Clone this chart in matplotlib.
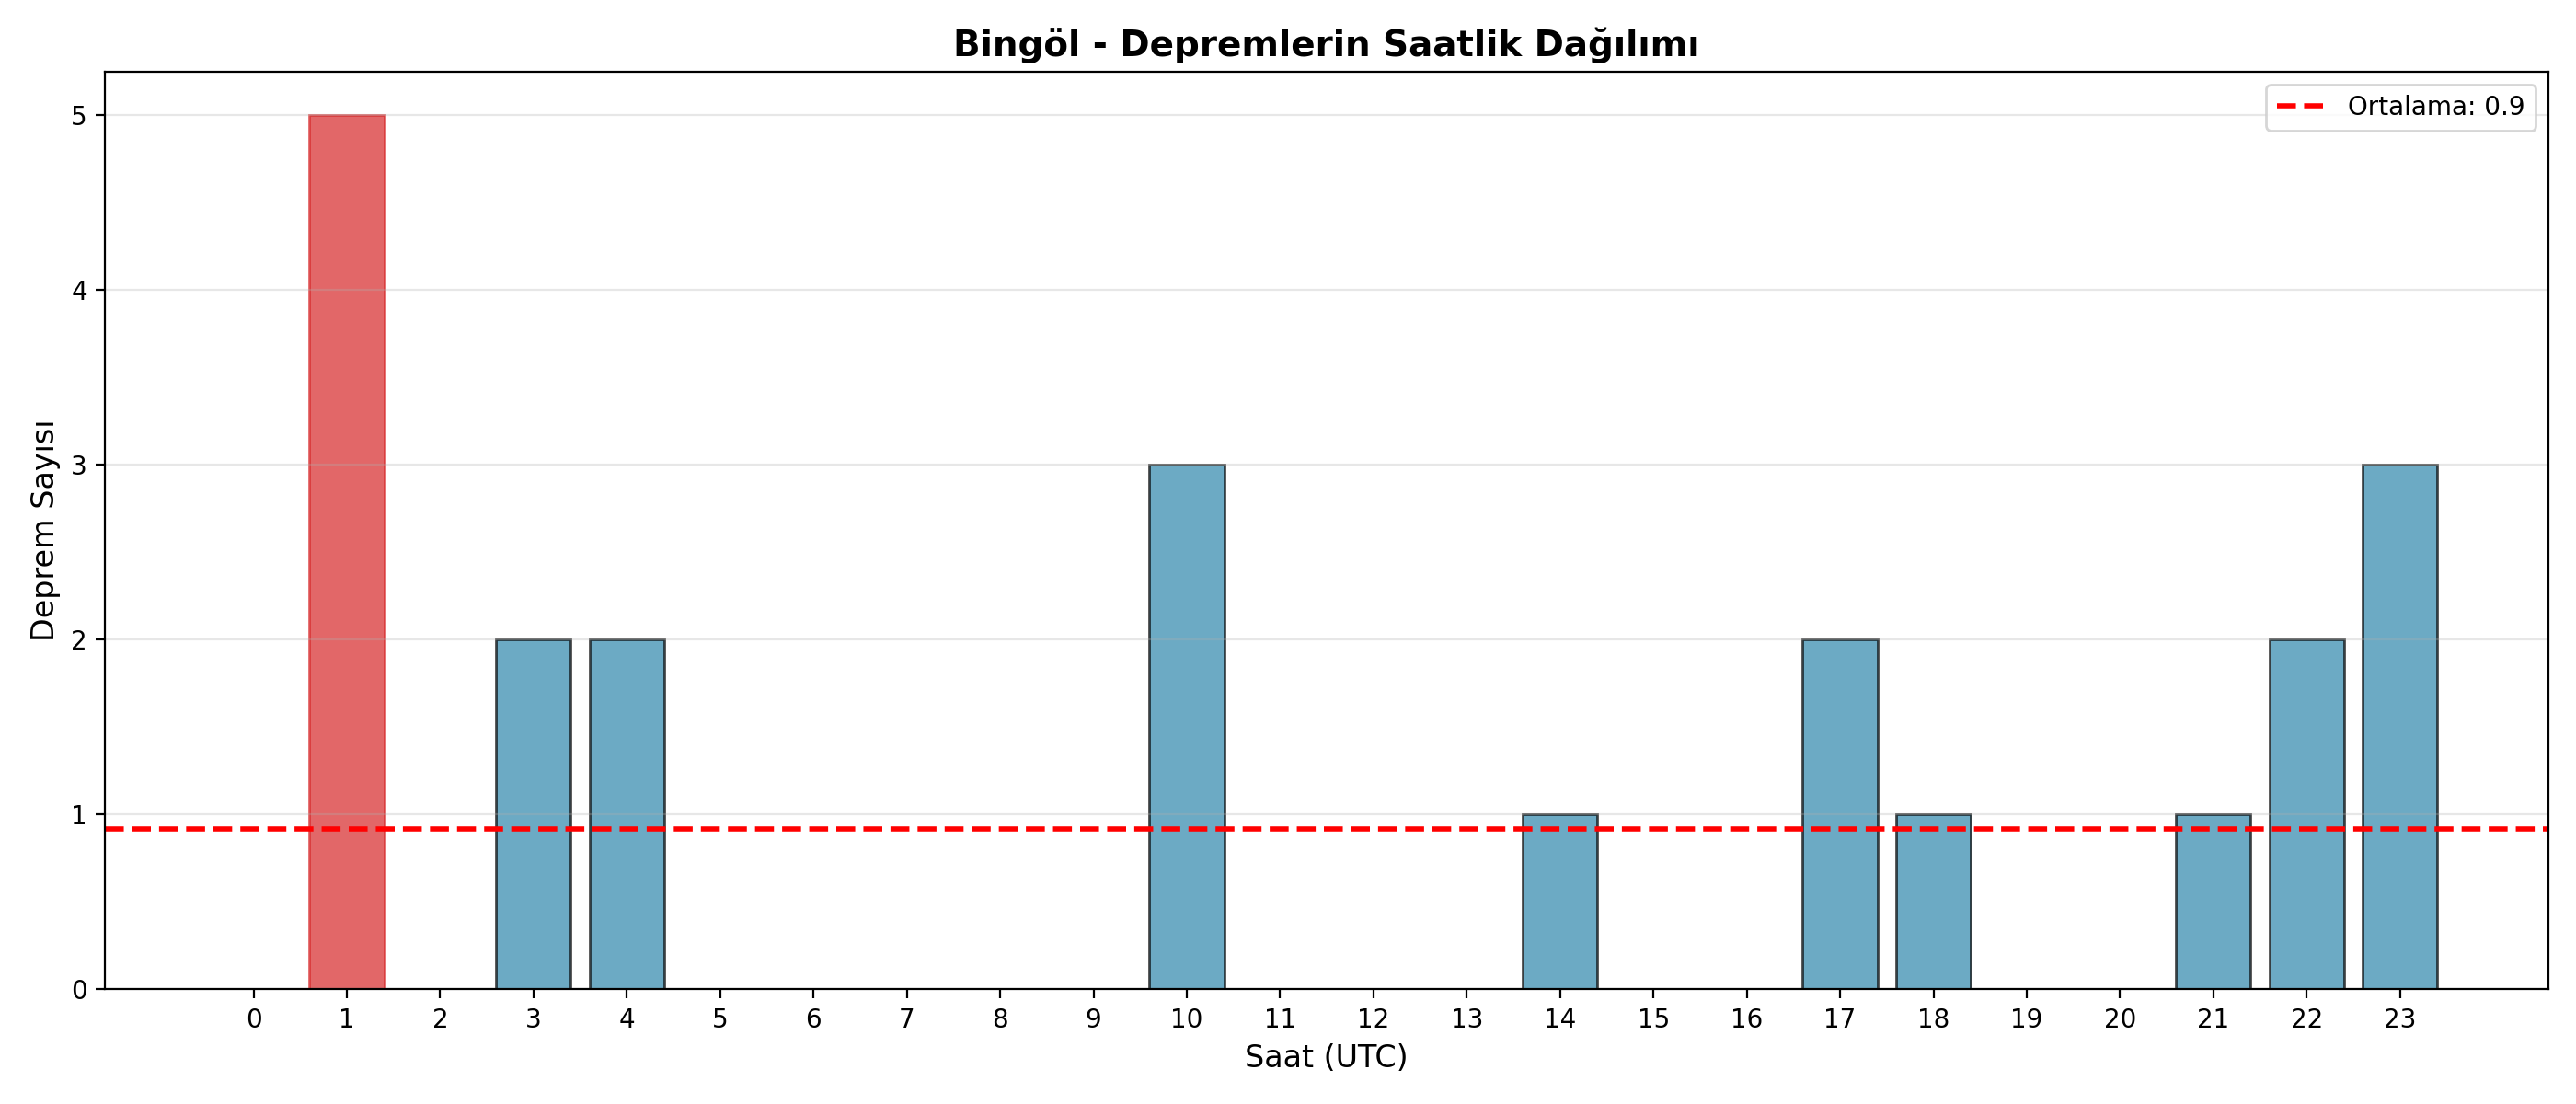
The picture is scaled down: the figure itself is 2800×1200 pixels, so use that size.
import matplotlib
matplotlib.use('Agg')
import matplotlib.pyplot as plt
import numpy as np

# Saatlik deprem sayıları (UTC)
hours = list(range(24))
counts = [0, 5, 0, 2, 2, 0, 0, 0, 0, 0, 3, 0, 0, 0, 1, 0, 0, 2, 1, 0, 0, 1, 2, 3]
city = 'Bingöl'


def plot_hourly(hours, counts, output_path='out.png'):
    fig, ax = plt.subplots(figsize=(14, 6))

    bars = ax.bar(hours, counts, color='#2E86AB', alpha=0.7, edgecolor='black')
    max_idx = int(np.argmax(counts))
    bars[max_idx].set_color('#d62728')

    mean_val = np.mean(counts)
    ax.axhline(mean_val, color='red', linestyle='--', linewidth=2,
               label=f'Ortalama: {mean_val:.1f}')

    ax.set_xlabel('Saat (UTC)', fontsize=12)
    ax.set_ylabel('Deprem Sayısı', fontsize=12)
    ax.set_title(f'{city} - Depremlerin Saatlik Dağılımı', fontsize=14, fontweight='bold')
    ax.set_xticks(hours)
    ax.legend()
    ax.grid(True, axis='y', alpha=0.3)

    plt.tight_layout()
    plt.savefig(output_path, dpi=200)


plot_hourly(hours, counts)
